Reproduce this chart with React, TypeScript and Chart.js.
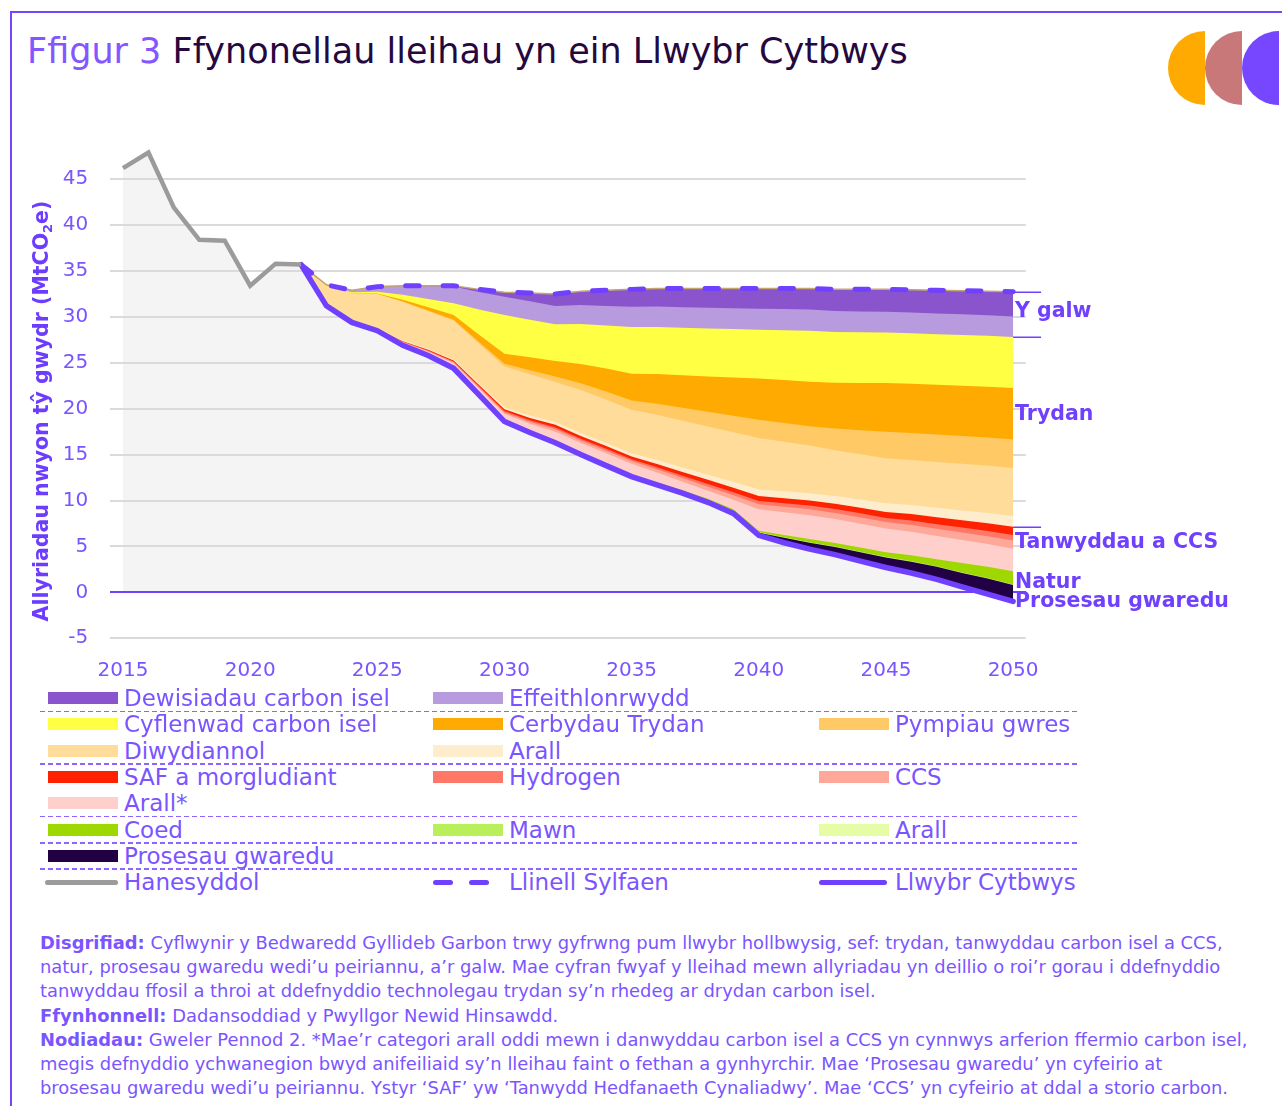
import React, { useEffect, useRef } from "react";
import { Chart, registerables } from "chart.js";

Chart.register(...registerables);

const FONT = "'DejaVu Sans', Verdana, sans-serif";
const PURPLE = "#7040ff";
const TEXT_PURPLE = "#7a55ff";

// ---------------- data (MtCO2e) ----------------
const historyYears = [2015, 2016, 2017, 2018, 2019, 2020, 2021, 2022];
const historyValues = [46.2, 47.9, 41.9, 38.4, 38.3, 33.4, 35.8, 35.7];

const pathwayYears = [2022, 2023, 2024, 2025, 2026, 2027, 2028, 2029, 2030, 2031, 2032, 2033, 2034, 2035, 2036, 2037, 2038, 2039, 2040, 2041, 2042, 2043, 2044, 2045, 2046, 2047, 2048, 2049, 2050];
const balancedPathway = [35.7, 31.2, 29.4, 28.5, 26.9, 25.8, 24.4, 21.5, 18.6, 17.4, 16.3, 15.0, 13.8, 12.6, 11.7, 10.8, 9.8, 8.6, 6.2, 5.4, 4.7, 4.1, 3.4, 2.7, 2.1, 1.4, 0.6, -0.2, -1.0];
const baselineLine = [35.7, 33.5, 32.9, 33.3, 33.4, 33.4, 33.4, 33.0, 32.7, 32.6, 32.5, 32.8, 32.9, 33.0, 33.1, 33.1, 33.1, 33.1, 33.1, 33.1, 33.1, 33.0, 33.0, 33.0, 32.95, 32.9, 32.85, 32.8, 32.75];

// abatement wedges (thickness of each band), 2022..2050
const lowCarbonChoices = [0, 0, 0, 0, 0.03, 0.06, 0.1, 0.3, 0.5, 0.9, 1.3, 1.5, 1.7, 1.9, 1.97, 2.04, 2.1, 2.15, 2.2, 2.25, 2.3, 2.35, 2.4, 2.45, 2.49, 2.53, 2.57, 2.61, 2.65];
const efficiency = [0, 0.05, 0.2, 0.55, 0.95, 1.4, 1.8, 1.9, 2.0, 2.0, 2.0, 2.07, 2.13, 2.2, 2.22, 2.24, 2.26, 2.28, 2.3, 2.3, 2.3, 2.28, 2.27, 2.25, 2.25, 2.25, 2.25, 2.25, 2.25];
const lowCarbonSupply = [0, 0.05, 0.15, 0.2, 0.55, 0.9, 1.3, 2.75, 4.2, 4.1, 4.0, 4.35, 4.7, 5.1, 5.14, 5.18, 5.22, 5.26, 5.3, 5.42, 5.55, 5.53, 5.52, 5.5, 5.51, 5.52, 5.53, 5.54, 5.55];
const electricVehicles = [0, 0, 0, 0.05, 0.2, 0.35, 0.5, 0.8, 1.1, 1.4, 1.7, 2.1, 2.5, 2.9, 3.22, 3.54, 3.86, 4.18, 4.5, 4.68, 4.85, 5.0, 5.15, 5.3, 5.36, 5.42, 5.48, 5.54, 5.6];
const heatPumps = [0, 0, 0, 0, 0.03, 0.06, 0.1, 0.2, 0.3, 0.45, 0.6, 0.73, 0.87, 1.0, 1.2, 1.4, 1.6, 1.8, 2.0, 2.05, 2.1, 2.37, 2.63, 2.9, 2.94, 2.98, 3.02, 3.06, 3.1];
const industry = [0, 2.1, 3.0, 3.75, 4.18, 4.1, 4.2, 4.3, 4.45, 4.5, 4.35, 4.69, 4.73, 4.75, 4.95, 5.1, 5.25, 5.4, 5.6, 5.4, 5.2, 4.97, 4.91, 4.9, 4.9, 5.0, 5.08, 5.16, 5.25];
const electrificationOther = [0, 0.05, 0.05, 0.05, 0.1, 0.12, 0.15, 0.18, 0.2, 0.25, 0.3, 0.32, 0.34, 0.35, 0.42, 0.49, 0.56, 0.63, 0.7, 0.75, 0.8, 0.85, 0.9, 0.95, 0.99, 1.03, 1.07, 1.11, 1.15];
const safShipping = [0, 0, 0, 0.02, 0.05, 0.07, 0.1, 0.15, 0.2, 0.25, 0.3, 0.3, 0.3, 0.3, 0.35, 0.4, 0.45, 0.5, 0.55, 0.55, 0.55, 0.58, 0.62, 0.65, 0.7, 0.75, 0.8, 0.85, 0.9];
const hydrogen = [0, 0, 0, 0.03, 0.05, 0.07, 0.1, 0.12, 0.15, 0.18, 0.2, 0.2, 0.2, 0.2, 0.23, 0.26, 0.29, 0.32, 0.35, 0.38, 0.4, 0.42, 0.44, 0.45, 0.48, 0.51, 0.54, 0.57, 0.6];
const ccsWedge = [0, 0, 0, 0, 0.04, 0.07, 0.1, 0.12, 0.15, 0.2, 0.25, 0.27, 0.29, 0.3, 0.35, 0.4, 0.45, 0.5, 0.55, 0.6, 0.65, 0.67, 0.69, 0.7, 0.74, 0.78, 0.82, 0.86, 0.9];
const fuelsOther = [0, 0.05, 0.1, 0.15, 0.3, 0.38, 0.5, 0.65, 0.8, 0.9, 1.1, 1.13, 1.17, 1.2, 1.09, 0.93, 0.88, 1.04, 2.35, 2.48, 2.6, 2.6, 2.6, 2.6, 2.57, 2.54, 2.51, 2.48, 2.45];
const trees = [0, 0, 0, 0, 0.02, 0.02, 0.05, 0.05, 0.05, 0.07, 0.1, 0.12, 0.14, 0.15, 0.1, 0.11, 0.12, 0.13, 0.14, 0.24, 0.34, 0.39, 0.44, 0.49, 0.63, 0.76, 1.01, 1.2, 1.44];
const peat = [0, 0, 0, 0, 0, 0, 0, 0, 0, 0, 0, 0, 0, 0, 0.04, 0.04, 0.04, 0.04, 0.04, 0.04, 0.04, 0.04, 0.04, 0.04, 0.04, 0.04, 0.04, 0.04, 0.04];
const natureOther = [0, 0, 0, 0, 0, 0, 0, 0, 0, 0, 0, 0, 0, 0, 0.02, 0.02, 0.02, 0.02, 0.02, 0.02, 0.02, 0.02, 0.02, 0.02, 0.02, 0.02, 0.02, 0.02, 0.02];
const removals = [0, 0, 0, 0, 0, 0, 0, 0, 0, 0, 0, 0.02, 0.03, 0.05, 0.1, 0.15, 0.2, 0.25, 0.3, 0.54, 0.7, 0.83, 0.97, 1.1, 1.24, 1.37, 1.51, 1.71, 1.8];

const xTickValues = [2015, 2020, 2025, 2030, 2035, 2040, 2045, 2050];
const yTickValues = [-5, 0, 5, 10, 15, 20, 25, 30, 35, 40, 45];

const sideLabelTexts = ["Y galw", "Trydan", "Tanwyddau a CCS", "Natur", "Prosesau gwaredu"];
const sideLabelValues = [30.6, 19.4, 5.4, 1.1, -1.05];

// ---------------- series configuration (bottom of stack first) ----------------
const layersBottomUp = [
  { key: "removals", label: "Prosesau gwaredu", values: removals, color: "#220044" },
  { key: "natureOther", label: "Arall", values: natureOther, color: "#e6fda6" },
  { key: "peat", label: "Mawn", values: peat, color: "#b8ef5a" },
  { key: "trees", label: "Coed", values: trees, color: "#9fd800" },
  { key: "fuelsOther", label: "Arall*", values: fuelsOther, color: "#ffcfcb" },
  { key: "ccs", label: "CCS", values: ccsWedge, color: "#ffa899" },
  { key: "hydrogen", label: "Hydrogen", values: hydrogen, color: "#ff7766" },
  { key: "saf", label: "SAF a morgludiant", values: safShipping, color: "#ff2200" },
  { key: "elecOther", label: "Arall", values: electrificationOther, color: "#feedcc" },
  { key: "industry", label: "Diwydiannol", values: industry, color: "#ffdc99" },
  { key: "heatPumps", label: "Pympiau gwres", values: heatPumps, color: "#ffc966" },
  { key: "evs", label: "Cerbydau Trydan", values: electricVehicles, color: "#ffaa00" },
  { key: "supply", label: "Cyflenwad carbon isel", values: lowCarbonSupply, color: "#ffff44" },
  { key: "efficiency", label: "Effeithlonrwydd", values: efficiency, color: "#b89ade" },
  { key: "choices", label: "Dewisiadau carbon isel", values: lowCarbonChoices, color: "#8a55cc" },
];

const lineSeries = {
  history: { label: "Hanesyddol", color: "#9b9b9b" },
  baseline: { label: "Llinell Sylfaen", color: PURPLE },
  pathway: { label: "Llwybr Cytbwys", color: PURPLE },
};

const legendGrid = [
  ["choices", "efficiency"],
  ["supply", "evs", "heatPumps"],
  ["industry", "elecOther"],
  ["saf", "hydrogen", "ccs"],
  ["fuelsOther"],
  ["trees", "peat", "natureOther"],
  ["removals"],
  ["history", "baseline", "pathway"],
];
const separatorsAfterRow = [0, 2, 4, 5, 6];

const footnoteLines = [
  ["Disgrifiad:", " Cyflwynir y Bedwaredd Gyllideb Garbon trwy gyfrwng pum llwybr hollbwysig, sef: trydan, tanwyddau carbon isel a CCS,"],
  ["", "natur, prosesau gwaredu wedi\u2019u peiriannu, a\u2019r galw. Mae cyfran fwyaf y lleihad mewn allyriadau yn deillio o roi\u2019r gorau i ddefnyddio"],
  ["", "tanwyddau ffosil a throi at ddefnyddio technolegau trydan sy\u2019n rhedeg ar drydan carbon isel."],
  ["Ffynhonnell:", " Dadansoddiad y Pwyllgor Newid Hinsawdd."],
  ["Nodiadau:", " Gweler Pennod 2. *Mae\u2019r categori arall oddi mewn i danwyddau carbon isel a CCS yn cynnwys arferion ffermio carbon isel,"],
  ["", "megis defnyddio ychwanegion bwyd anifeiliaid sy\u2019n lleihau faint o fethan a gynhyrchir. Mae \u2018Prosesau gwaredu\u2019 yn cyfeirio at"],
  ["", "brosesau gwaredu wedi\u2019u peiriannu. Ystyr \u2018SAF\u2019 yw \u2018Tanwydd Hedfanaeth Cynaliadwy\u2019. Mae \u2018CCS\u2019 yn cyfeirio at ddal a storio carbon."],
];

// ---------------- layout constants ----------------
const CANVAS_TOP = 100;
const LEGEND_TOP = 685;
const LEGEND_ROW_H = 26.3;
const LEGEND_COL_X = [48, 433, 819];

function Swatch({ k }: { k: string }) {
  const layer = layersBottomUp.find((l) => l.key === k);
  if (layer) {
    return <div style={{ position: "absolute", left: 0, top: 7, width: 70, height: 12, background: layer.color }} />;
  }
  if (k === "history") {
    return <div style={{ position: "absolute", left: -3, top: 10.5, width: 73, height: 5, borderRadius: 3, background: lineSeries.history.color }} />;
  }
  if (k === "baseline") {
    return (
      <>
        <div style={{ position: "absolute", left: 0, top: 10.5, width: 20, height: 5, borderRadius: 3, background: PURPLE }} />
        <div style={{ position: "absolute", left: 36, top: 10.5, width: 20, height: 5, borderRadius: 3, background: PURPLE }} />
      </>
    );
  }
  return <div style={{ position: "absolute", left: 0, top: 10.5, width: 68, height: 5, borderRadius: 3, background: PURPLE }} />;
}

function legendLabel(k: string) {
  const layer = layersBottomUp.find((l) => l.key === k);
  if (layer) return layer.label;
  return (lineSeries as any)[k].label;
}

export default function App() {
  const canvasRef = useRef<HTMLCanvasElement | null>(null);

  useEffect(() => {
    const canvas = canvasRef.current;
    if (!canvas) return;
    Chart.defaults.font.family = FONT;

    const pts = (vals: number[]) => pathwayYears.map((x, i) => ({ x, y: vals[i] }));
    const tops: Record<string, number[]> = {};
    let run = balancedPathway.slice();
    const layerSets = layersBottomUp.map((layer) => {
      run = run.map((v, i) => v + layer.values[i]);
      tops[layer.key] = run.slice();
      return {
        label: layer.label,
        data: pts(run),
        backgroundColor: layer.color,
        borderColor: layer.color,
        borderWidth: 0,
        pointRadius: 0,
        fill: "0",
        order: 10,
      };
    });

    const datasets: any[] = [
      { label: "base", data: pts(balancedPathway), borderWidth: 0, borderColor: "rgba(0,0,0,0)", pointRadius: 0, fill: false, order: 10 },
      ...layerSets,
      { label: "top", data: pts(baselineLine), borderColor: "#c5a56e", borderWidth: 1.5, pointRadius: 0, fill: false, order: 4 },
      {
        label: lineSeries.baseline.label,
        data: pts(baselineLine),
        borderColor: lineSeries.baseline.color,
        borderWidth: 5,
        borderDash: [13.5, 24],
        borderCapStyle: "round",
        pointRadius: 0,
        fill: false,
        order: 3,
      },
      {
        label: lineSeries.pathway.label,
        data: pts(balancedPathway),
        borderColor: lineSeries.pathway.color,
        borderWidth: 5.5,
        borderCapStyle: "round",
        pointRadius: 0,
        fill: false,
        order: 2,
      },
      {
        label: lineSeries.history.label,
        data: historyYears.map((x, i) => ({ x, y: historyValues[i] })),
        borderColor: lineSeries.history.color,
        borderWidth: 4.5,
        pointRadius: 0,
        fill: false,
        order: 1,
      },
    ];

    const backdropPlugin = {
      id: "backdrop",
      beforeDraw(chart: any) {
        const { ctx, chartArea, scales } = chart;
        const xs = scales.x;
        const ys = scales.y;
        ctx.save();
        ctx.beginPath();
        ctx.rect(chartArea.left, chartArea.top, chartArea.right - chartArea.left, chartArea.bottom - chartArea.top);
        ctx.clip();
        ctx.beginPath();
        historyYears.forEach((yr, i) => {
          const px = xs.getPixelForValue(yr);
          const py = ys.getPixelForValue(historyValues[i]);
          if (i === 0) ctx.moveTo(px, py);
          else ctx.lineTo(px, py);
        });
        pathwayYears.forEach((yr, i) => {
          if (i === 0) return;
          ctx.lineTo(xs.getPixelForValue(yr), ys.getPixelForValue(baselineLine[i]));
        });
        ctx.lineTo(xs.getPixelForValue(pathwayYears[pathwayYears.length - 1]), ys.getPixelForValue(0));
        ctx.lineTo(xs.getPixelForValue(historyYears[0]), ys.getPixelForValue(0));
        ctx.closePath();
        ctx.fillStyle = "#f4f4f4";
        ctx.fill();
        ctx.restore();
      },
    };

    const notesPlugin = {
      id: "notes",
      afterDraw(chart: any) {
        const { ctx, scales } = chart;
        const xs = scales.x;
        const ys = scales.y;
        ctx.save();
        // y-axis title (rotated), with subscript 2
        ctx.translate(43, 411 - CANVAS_TOP);
        ctx.rotate(-Math.PI / 2);
        ctx.fillStyle = "#6c3cff";
        ctx.textBaseline = "middle";
        ctx.textAlign = "left";
        const mainFont = `bold 20.5px ${FONT}`;
        const subFont = `bold 13px ${FONT}`;
        const p1 = "Allyriadau nwyon t\u0177 gwydr (MtCO";
        const p2 = "2";
        const p3 = "e)";
        ctx.font = mainFont;
        const w1 = ctx.measureText(p1).width;
        const w3 = ctx.measureText(p3).width;
        ctx.font = subFont;
        const w2 = ctx.measureText(p2).width;
        let sx = -(w1 + w2 + w3) / 2;
        ctx.font = mainFont;
        ctx.fillText(p1, sx, 0);
        sx += w1;
        ctx.font = subFont;
        ctx.fillText(p2, sx, 6);
        sx += w2;
        ctx.font = mainFont;
        ctx.fillText(p3, sx, 0);
        ctx.restore();

        // right-hand annotations
        const last = pathwayYears.length - 1;
        const xEnd = xs.getPixelForValue(pathwayYears[last]);
        ctx.save();
        ctx.strokeStyle = PURPLE;
        ctx.lineWidth = 1.5;
        const bracketValues = [baselineLine[last], tops["supply"][last], tops["saf"][last]];
        bracketValues.forEach((v) => {
          const py = Math.round(ys.getPixelForValue(v)) + 0.25;
          ctx.beginPath();
          ctx.moveTo(xEnd, py);
          ctx.lineTo(xEnd + 28, py);
          ctx.stroke();
        });
        ctx.fillStyle = PURPLE;
        ctx.font = `bold 20.5px ${FONT}`;
        ctx.textAlign = "left";
        ctx.textBaseline = "middle";
        sideLabelTexts.forEach((t, i) => {
          ctx.fillText(t, xEnd + 2, ys.getPixelForValue(sideLabelValues[i]));
        });
        ctx.restore();
      },
    };

    const chart = new Chart(canvas, {
      type: "line",
      data: { datasets },
      options: {
        animation: false,
        responsive: false,
        maintainAspectRatio: false,
        devicePixelRatio: 1,
        layout: { padding: { left: 0, right: 256.2, top: 42.5, bottom: 11.8 } },
        plugins: { legend: { display: false }, tooltip: { enabled: false } },
        elements: { point: { radius: 0 }, line: { tension: 0 } },
        scales: {
          x: {
            type: "linear",
            min: 2014.5,
            max: 2050.5,
            grid: { display: false },
            border: { display: false },
            afterBuildTicks: (s: any) => {
              s.ticks = xTickValues.map((v) => ({ value: v }));
            },
            afterFit: (s: any) => {
              s.height = 50;
            },
            ticks: {
              color: TEXT_PURPLE,
              font: { size: 20, family: FONT },
              padding: 13,
              maxRotation: 0,
              autoSkip: false,
              callback: (v: any) => String(v),
            },
          },
          y: {
            type: "linear",
            min: -5,
            max: 49,
            grid: {
              color: (c: any) => (c.tick && c.tick.value === 0 ? PURPLE : "#dadada"),
              lineWidth: 2,
              drawTicks: false,
            },
            border: { display: false },
            afterBuildTicks: (s: any) => {
              s.ticks = yTickValues.map((v) => ({ value: v }));
            },
            afterFit: (s: any) => {
              s.width = 110.3;
            },
            ticks: {
              color: TEXT_PURPLE,
              font: { size: 20, family: FONT },
              padding: 22,
              callback: (v: any) => String(v),
            },
          },
        },
      } as any,
      plugins: [backdropPlugin, notesPlugin],
    });

    return () => {
      chart.destroy();
    };
  }, []);

  const logo = [
    { color: "#ffaa00", left: 1168 },
    { color: "#c87878", left: 1205 },
    { color: "#7747ff", left: 1242 },
  ];

  return (
    <div
      style={{
        position: "absolute",
        left: 0,
        top: 0,
        width: 1282,
        height: 1106,
        overflow: "hidden",
        background: "#ffffff",
        fontFamily: FONT,
      }}
    >
      <div
        style={{
          position: "absolute",
          left: 10,
          top: 11,
          width: 1400,
          height: 1200,
          borderTop: "2px solid #7447ff",
          borderLeft: "2px solid #7447ff",
        }}
      />
      <div style={{ position: "absolute", left: 27, top: 34, fontSize: 35, lineHeight: "35px", whiteSpace: "nowrap" }}>
        <span style={{ color: "#8456ff" }}>Ffigur 3</span>
        <span style={{ color: "#26083f" }}> Ffynonellau lleihau yn ein Llwybr Cytbwys</span>
      </div>
      {logo.map((l) => (
        <div
          key={l.left}
          style={{
            position: "absolute",
            left: l.left,
            top: 31,
            width: 37,
            height: 74,
            background: l.color,
            borderTopLeftRadius: "37px 37px",
            borderBottomLeftRadius: "37px 37px",
          }}
        />
      ))}

      <canvas
        ref={canvasRef}
        width={1282}
        height={600}
        style={{ position: "absolute", left: 0, top: CANVAS_TOP, width: 1282, height: 600 }}
      />

      {legendGrid.map((row, r) => (
        <React.Fragment key={r}>
          {row.map((k, c) => (
            <div
              key={k + c}
              style={{
                position: "absolute",
                left: LEGEND_COL_X[c],
                top: LEGEND_TOP + r * LEGEND_ROW_H,
                height: LEGEND_ROW_H,
                width: 380,
              }}
            >
              <Swatch k={k} />
              <div
                style={{
                  position: "absolute",
                  left: 76,
                  top: 0,
                  fontSize: 23,
                  lineHeight: LEGEND_ROW_H + "px",
                  color: TEXT_PURPLE,
                  whiteSpace: "nowrap",
                }}
              >
                {legendLabel(k)}
              </div>
            </div>
          ))}
          {separatorsAfterRow.includes(r) && (
            <div
              style={{
                position: "absolute",
                left: 40,
                top: LEGEND_TOP + (r + 1) * LEGEND_ROW_H - 0.75,
                width: 1038,
                height: 1.5,
                background: "repeating-linear-gradient(to right, #8a66ff 0px, #8a66ff 5px, transparent 5px, transparent 8px)",
              }}
            />
          )}
        </React.Fragment>
      ))}

      {footnoteLines.map((ln, i) => (
        <div
          key={i}
          style={{
            position: "absolute",
            left: 40,
            top: 931 + i * 24.2,
            fontSize: 17.9,
            lineHeight: "24.2px",
            color: TEXT_PURPLE,
            whiteSpace: "nowrap",
          }}
        >
          {ln[0] && <span style={{ fontWeight: "bold" }}>{ln[0]}</span>}
          <span>{ln[1]}</span>
        </div>
      ))}
    </div>
  );
}
